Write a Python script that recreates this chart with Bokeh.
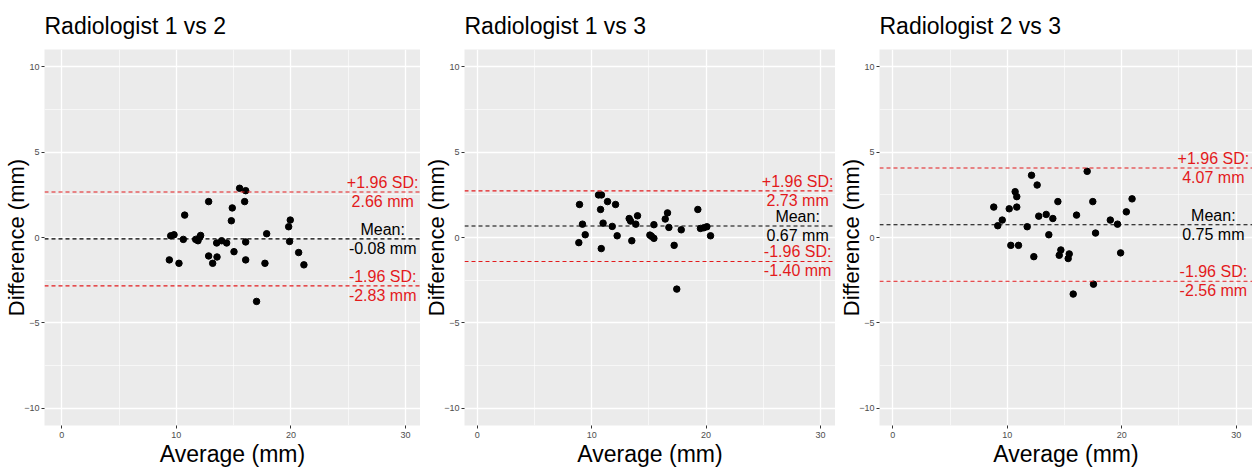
from bokeh.plotting import figure
from bokeh.layouts import row
from bokeh.models import FixedTicker, Range1d, Span
from bokeh.core.properties import value
from bokeh.embed import file_html
from bokeh.resources import INLINE

titles = ["Radiologist 1 vs 2", "Radiologist 1 vs 3", "Radiologist 2 vs 3"]

avg_12 = [15.52, 16.05, 15.96, 12.82, 14.88, 10.73, 14.80, 19.94, 19.80, 17.88, 9.51, 9.80,
          10.61, 11.69, 11.89, 12.12, 12.05, 13.52, 13.95, 14.39, 16.05, 19.88, 15.03, 20.67,
          9.39, 12.82, 13.55, 10.23, 13.17, 16.05, 17.73, 21.13, 17.00]
diff_12 = [2.88, 2.74, 2.10, 2.10, 1.73, 1.31, 0.98, 1.02, 0.63, 0.22, 0.10, 0.16,
           -0.11, -0.11, -0.19, 0.12, 0.02, -0.32, -0.19, -0.32, -0.26, -0.23, -0.83, -0.88,
           -1.31, -1.08, -1.14, -1.51, -1.51, -1.31, -1.51, -1.60, -3.74]

avg_13 = [10.60, 10.86, 8.94, 11.39, 12.09, 10.78, 19.28, 16.63, 14.01, 13.28, 13.40, 16.43,
          9.20, 11.00, 13.86, 15.44, 11.80, 16.75, 17.83, 19.51, 19.80, 20.07, 9.44, 12.23,
          15.09, 15.23, 15.44, 20.39, 13.51, 8.88, 17.21, 10.84, 17.44]
diff_13 = [2.49, 2.49, 1.93, 2.10, 1.93, 1.64, 1.64, 1.44, 1.27, 1.11, 0.96, 1.08,
           0.78, 0.84, 0.78, 0.75, 0.65, 0.59, 0.45, 0.53, 0.57, 0.63, 0.16, 0.10,
           0.14, 0.07, -0.05, 0.10, -0.19, -0.30, -0.46, -0.65, -3.02]

avg_23 = [12.12, 16.98, 12.61, 10.69, 10.83, 14.42, 17.47, 8.82, 10.17, 10.83, 12.75, 13.40,
          13.98, 16.05, 9.56, 9.17, 11.74, 13.63, 17.71, 10.31, 10.98, 12.32, 14.68, 14.54,
          15.41, 15.32, 17.53, 15.76, 19.00, 19.63, 20.40, 20.90, 19.90]
diff_23 = [3.64, 3.87, 3.07, 2.68, 2.39, 2.10, 2.10, 1.78, 1.68, 1.78, 1.25, 1.35,
           1.11, 1.31, 1.02, 0.69, 0.63, 0.16, 0.26, -0.46, -0.46, -1.12, -0.73, -1.04,
           -0.96, -1.23, -2.73, -3.31, 1.02, 0.78, 1.50, 2.26, -0.90]

mean_vals = [-0.08, 0.67, 0.75]
upper_vals = [2.66, 2.73, 4.07]
lower_vals = [-2.83, -1.40, -2.56]

x_ticks = [0, 10, 20, 30]
x_minor = [-5, 5, 15, 25, 35]
y_ticks = [-10, -5, 0, 5, 10]
y_minor = [-7.5, -2.5, 2.5, 7.5]

label_x = 28
FONT = "Liberation Sans"
RED = "#E31A1C"

avgs = [avg_12, avg_13, avg_23]
diffs = [diff_12, diff_13, diff_23]
widths = [420, 415, 417]
x_starts = [-1.5, -1.11, -1.16]
x_ends = [31.3, 31.31, 31.42]


def make_panel(i):
    p = figure(width=widths[i], height=469, output_backend="svg", toolbar_location=None,
               x_range=Range1d(x_starts[i], x_ends[i]), y_range=Range1d(-11, 11),
               title=titles[i])
    p.min_border = 0
    p.min_border_left = 44
    p.min_border_right = 0
    p.min_border_top = 48
    p.min_border_bottom = 0
    p.background_fill_color = "#EBEBEB"
    p.border_fill_color = "white"
    p.outline_line_color = None

    p.title.text_font = FONT
    p.title.text_font_size = "23px"
    p.title.text_font_style = "normal"
    p.title.text_color = "black"
    p.title.standoff = 21

    p.xaxis.ticker = FixedTicker(ticks=x_ticks, minor_ticks=x_minor)
    p.yaxis.ticker = FixedTicker(ticks=y_ticks, minor_ticks=y_minor)
    for ax in (p.xaxis, p.yaxis):
        ax.axis_line_color = None
        ax.minor_tick_line_color = None
        ax.major_tick_line_color = "#333333"
        ax.major_tick_in = 0
        ax.major_tick_out = 3
        ax.major_label_text_font = FONT
        ax.major_label_text_font_size = "9px"
        ax.major_label_text_color = "#4D4D4D"
        ax.axis_label_text_font = FONT
        ax.axis_label_text_font_style = "normal"
        ax.axis_label_text_color = "black"
    p.xaxis.major_label_standoff = 2
    p.xaxis.axis_label_standoff = 0
    p.yaxis.major_label_standoff = 1
    p.yaxis.axis_label_standoff = -8
    p.xaxis.axis_label = "Average (mm)"
    p.yaxis.axis_label = "Difference (mm)"
    p.xaxis.axis_label_text_font_size = "23px"
    p.yaxis.axis_label_text_font_size = "22px"

    for g in (p.xgrid, p.ygrid):
        g.grid_line_color = "white"
        g.grid_line_width = 1.3
        g.minor_grid_line_color = "white"
        g.minor_grid_line_width = 0.6

    p.add_layout(Span(location=upper_vals[i], dimension="width", line_color=RED,
                      line_dash="4 3", line_width=1.1))
    p.add_layout(Span(location=mean_vals[i], dimension="width", line_color="black",
                      line_dash="4 3", line_width=1.1))
    p.add_layout(Span(location=lower_vals[i], dimension="width", line_color=RED,
                      line_dash="4 3", line_width=1.1))

    p.scatter(avgs[i], diffs[i], size=6.5, color="black")

    u, m, l = upper_vals[i], mean_vals[i], lower_vals[i]
    p.text(x=[label_x] * 4, y=[u, u, l, l],
           text=["+1.96 SD:", f"{u:.2f} mm", "-1.96 SD:", f"{l:.2f} mm"],
           y_offset=[-9.5, 9.5, -9.5, 9.5],
           text_align="center", text_baseline="middle", text_color=RED,
           text_font=value(FONT), text_font_size="16px")
    p.text(x=[label_x] * 2, y=[m, m], text=["Mean:", f"{m:.2f} mm"],
           y_offset=[-9.5, 9.5],
           text_align="center", text_baseline="middle", text_color="black",
           text_font=value(FONT), text_font_size="16px")
    return p


panels = [make_panel(i) for i in range(3)]
layout = row(*panels, spacing=0)
open("out.html", "w").write(file_html(layout, INLINE))
